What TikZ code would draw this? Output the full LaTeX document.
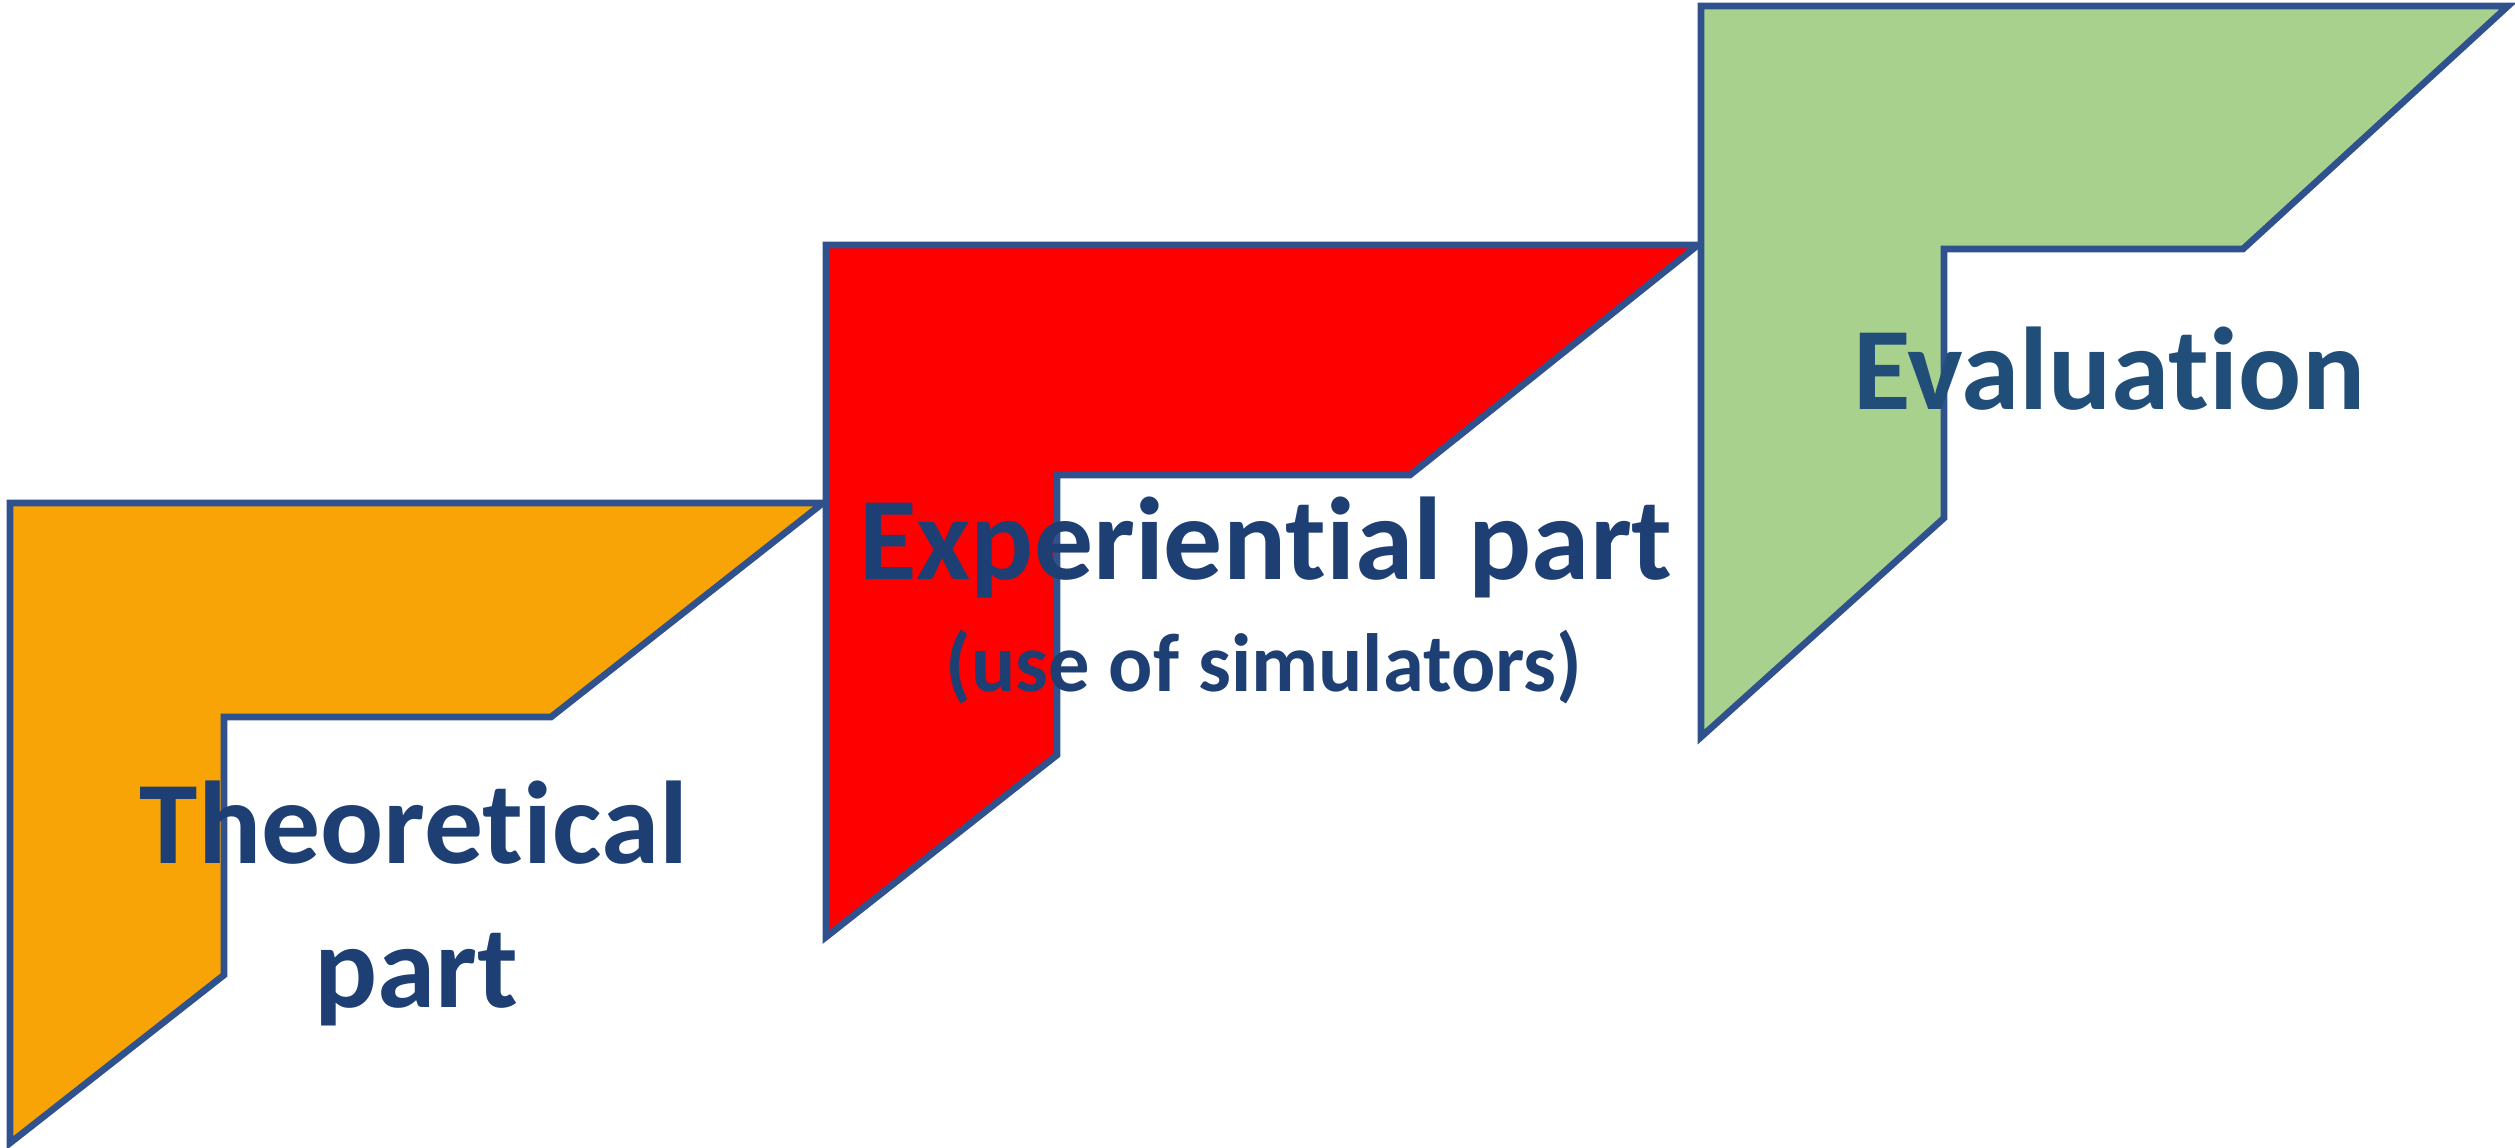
\documentclass[tikz,border=0pt]{standalone}
\usepackage{fontspec}
\setmainfont[Ligatures={NoCommon}]{Carlito}
\definecolor{outl}{RGB}{47,82,143}
\definecolor{txtA}{RGB}{29,63,115}
\definecolor{txtB}{RGB}{33,78,121}
\definecolor{orng}{RGB}{249,164,6}
\definecolor{rred}{RGB}{255,0,0}
\definecolor{grn}{RGB}{169,209,142}
\tikzset{
  stair/.style={draw=outl, line width=3.8pt, line join=miter},
  bigtxt/.style={anchor=base, inner sep=0pt, font=\fontsize{67}{80}\selectfont\bfseries},
  smalltxt/.style={anchor=base, inner sep=0pt, font=\fontsize{47}{56}\selectfont\bfseries}
}
\begin{document}
\begin{tikzpicture}[x=0.02cm,y=-0.02cm]
\useasboundingbox (0,0) rectangle (2515,1148);
% orange
\path[stair, fill=orng] (10,503) -- (823,503) -- (551,717) -- (224,717) -- (224,975) -- (10,1143) -- cycle;
% red
\path[stair, fill=rred] (826,245) -- (1698,245) -- (1410,475) -- (1057,475) -- (1057,755) -- (826,937) -- cycle;
% green
\path[stair, fill=grn] (1701,6) -- (2508,6) -- (2243,249) -- (1944,249) -- (1944,518) -- (1701,737) -- cycle;
% texts
\node[bigtxt, text=txtA] (theo) at (414,863) {Theoretical};
\node[bigtxt, text=txtA] (theopart) at (416,1007) {part};
\node[bigtxt, text=txtA] (exp) at (1266,580) {Experiential part};
\node[smalltxt, text=txtA] (sim) at (1264,691) {(use of simulators)};
\node[bigtxt, text=txtB] (eval) at (2109,410) {Evaluation};
\end{tikzpicture}
\end{document}
